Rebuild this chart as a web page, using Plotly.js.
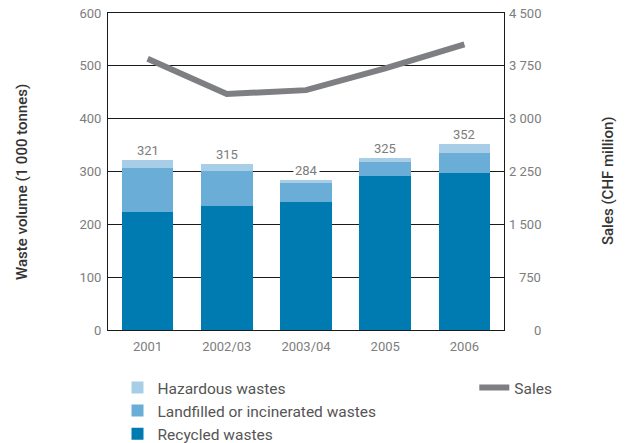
<!DOCTYPE html>
<html>
<head>
<meta charset="utf-8">
<script src="https://cdn.plot.ly/plotly-3.0.1.min.js"></script>
<style>html,body{margin:0;padding:0;background:#fff;}#chart{width:630px;height:443px;}</style>
</head>
<body>
<div id="chart"></div>
<script>
// ---- data ----
const categories = ['2001', '2002/03', '2003/04', '2005', '2006'];
const recycled = [223, 235, 242, 291, 297];
const landfilled = [84, 66, 36, 27, 38];
const hazardous = [14, 14, 6, 7, 17];
const totals = [321, 315, 284, 325, 352];
const sales = [3850, 3350, 3405, 3715, 4055];
const wasteTicks = [0, 100, 200, 300, 400, 500, 600];
const salesTicks = [0, 750, 1500, 2250, 3000, 3750, 4500];
const salesTickLabels = ['0', '750', '1 500', '2 250', '3 000', '3 750', '4 500'];

const FONT = 'Roboto, "DejaVu Sans", sans-serif';
const tickColor = '#7d7d7d';
const idx = categories.map((c, i) => i);

const traces = [
  {type: 'bar', name: 'Recycled wastes', x: idx, y: recycled,
   marker: {color: '#007bb2'}, legend: 'legend', hoverinfo: 'skip'},
  {type: 'bar', name: 'Landfilled or incinerated wastes', x: idx, y: landfilled,
   marker: {color: '#6aadd6'}, legend: 'legend', hoverinfo: 'skip'},
  {type: 'bar', name: 'Hazardous wastes', x: idx, y: hazardous,
   marker: {color: '#a8cee7'}, legend: 'legend', hoverinfo: 'skip'},
  {type: 'scatter', mode: 'lines', name: 'Sales', x: idx, y: sales, yaxis: 'y2',
   line: {color: '#7e7f82', width: 6}, legend: 'legend2', hoverinfo: 'skip'}
];

const annotations = [];
idx.forEach((xi, i) => {
  annotations.push({x: xi, y: totals[i], xref: 'x', yref: 'y', text: String(totals[i]),
    showarrow: false, yanchor: 'bottom', yshift: 0, bgcolor: '#ffffff', borderpad: 1,
    font: {family: FONT, size: 13, color: tickColor}});
});
salesTicks.forEach((v, i) => {
  annotations.push({x: 1.0985, xref: 'paper', y: v, yref: 'y2', text: salesTickLabels[i],
    showarrow: false, xanchor: 'right', yanchor: 'middle',
    font: {family: FONT, size: 13, color: tickColor}});
});
annotations.push({x: -0.2172, xref: 'paper', y: 0.467, yref: 'paper', text: 'Waste volume (1 000 tonnes)',
  textangle: -90, showarrow: false, xanchor: 'center', yanchor: 'middle',
  font: {family: FONT, size: 15, color: '#333333', weight: 500}});
annotations.push({x: 1.2626, xref: 'paper', y: 0.473, yref: 'paper', text: 'Sales (CHF million)',
  textangle: -90, showarrow: false, xanchor: 'center', yanchor: 'middle',
  font: {family: FONT, size: 15, color: '#333333', weight: 500}});

const layout = {
  width: 630, height: 443,
  margin: {l: 108, r: 126, t: 13, b: 113, autoexpand: false},
  paper_bgcolor: '#ffffff', plot_bgcolor: '#ffffff',
  barmode: 'stack', bargap: 0.35,
  separators: '. ',
  font: {family: FONT, color: tickColor},
  showlegend: true,
  xaxis: {range: [-0.5, categories.length - 0.5], tickvals: idx, ticktext: categories,
    showline: true, linecolor: '#1a1a1a', linewidth: 1, mirror: true,
    ticks: '', showgrid: false, zeroline: false, tickfont: {family: FONT, size: 13, color: tickColor}, ticklabelstandoff: 4},
  yaxis: {range: [0, 600], tickvals: wasteTicks, showline: true, linecolor: '#1a1a1a', linewidth: 1,
    showgrid: true, gridcolor: '#1a1a1a', gridwidth: 1, zeroline: false, ticks: '',
    tickfont: {family: FONT, size: 13, color: tickColor}, ticklabelstandoff: 3},
  yaxis2: {range: [0, 4500], tickvals: salesTicks, overlaying: 'y', side: 'right', showline: true,
    linecolor: '#1a1a1a', linewidth: 1, showgrid: false, zeroline: false, ticks: '', showticklabels: false},
  legend: {x: 0.024, y: -0.129, xanchor: 'left', yanchor: 'top', orientation: 'v', traceorder: 'reversed',
    font: {family: FONT, size: 15.5, color: '#555555'}, bgcolor: 'rgba(0,0,0,0)'},
  legend2: {x: 0.925, y: -0.129, xanchor: 'left', yanchor: 'top',
    font: {family: FONT, size: 15.5, color: '#555555'}, bgcolor: 'rgba(0,0,0,0)'},
  annotations: annotations
};

Plotly.newPlot('chart', traces, layout, {displayModeBar: false, staticPlot: true});
</script>
</body>
</html>
